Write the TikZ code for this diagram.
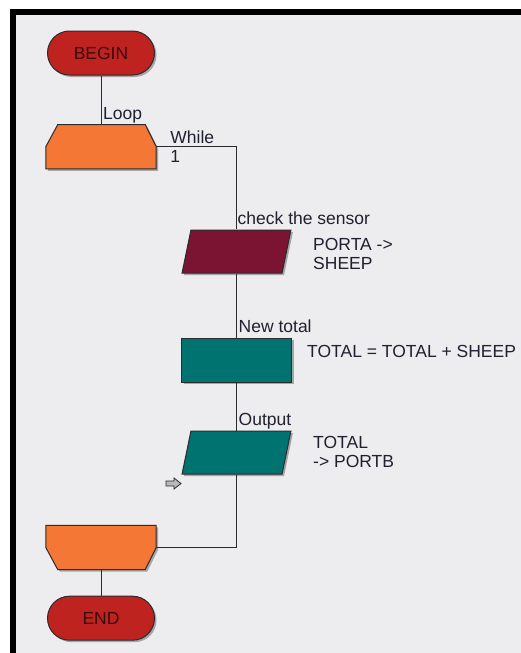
\documentclass[tikz,border=0pt]{standalone}
\usepackage{fontspec}
\setmainfont{Liberation Sans}
\usepackage{xcolor}
\usepackage{tikz}
\usetikzlibrary{positioning,shapes.geometric,shadows}

\definecolor{panel}{HTML}{EDEDF0}
\definecolor{termred}{HTML}{BE2320}
\definecolor{termtext}{HTML}{3A0A0A}
\definecolor{looporange}{HTML}{F47735}
\definecolor{inmaroon}{HTML}{7B1433}
\definecolor{calcteal}{HTML}{007370}
\definecolor{edge}{HTML}{2B2B2B}
\definecolor{labelink}{HTML}{202030}

\begin{document}
\begin{tikzpicture}[x=1pt, y=-1pt, font=\fontsize{17.5}{19}\selectfont,
  lift/.style={drop shadow={shadow xshift=2pt, shadow yshift=-2pt, opacity=.3, fill=black}},
  box/.style={draw=edge, line width=1pt, inner sep=0pt, lift},
  terminal/.style={box, fill=termred, text=termtext, rounded corners=22pt,
    minimum width=107pt, minimum height=44pt},
  loopbox/.style={rectangle, inner sep=0pt, minimum width=110pt, minimum height=44pt},
  loopshape/.style={draw=edge, line width=1pt, fill=looporange, lift},
  iobox/.style={box, trapezium, inner xsep=10pt, inner ysep=2pt,
    trapezium left angle=64, trapezium right angle=116,
    trapezium stretches=true, minimum width=109pt, minimum height=43pt},
  procbox/.style={box, rectangle, fill=calcteal, minimum width=110pt, minimum height=44pt},
  tag/.style={inner sep=0pt, text=labelink, anchor=base west},
  note/.style={inner sep=0pt, text=labelink, align=left},
  link/.style={draw=edge, line width=1pt}]
\useasboundingbox (0,0) rectangle (521,653);
\fill[white] (0,0) rectangle (521,653);
\fill[black] (10,9) rectangle (521,653);
\fill[panel] (16,15) rectangle (521,653);

\node[terminal] (begin) at (101,53) {BEGIN};
\node[loopbox, below=49pt of begin] (loopstart) {};
\node[iobox, fill=inmaroon] (sensor) at (236.5,251.5) {};
\node[procbox, below=64pt of sensor] (newtotal) {};
\node[iobox, fill=calcteal, below=48pt of newtotal] (output) {};
\node[loopbox] (loopend) at (101,547.5) {};
\node[terminal, below=26pt of loopend] (end) {END};

\filldraw[loopshape] (loopstart.south west) -- (loopstart.west) -- ([xshift=12pt]loopstart.north west)
  -- ([xshift=-11pt]loopstart.north east) -- (loopstart.east) -- (loopstart.south east) -- cycle;
\filldraw[loopshape] (loopend.north west) -- (loopend.west) -- ([xshift=12pt]loopend.south west)
  -- ([xshift=-11pt]loopend.south east) -- (loopend.east) -- (loopend.north east) -- cycle;

\node[tag] (looptag) at ([xshift=2pt, yshift=5pt]loopstart.north) {Loop};
\node[tag] (whiletag) at ([xshift=14pt, yshift=3pt]loopstart.east) {While};
\node[tag] (countag) at ([xshift=14pt, yshift=-16pt]loopstart.east) {1};
\node[tag] (sensortag) at ([xshift=1pt, yshift=5pt]sensor.north) {check the sensor};
\node[tag] (totaltag) at ([xshift=2pt, yshift=5pt]newtotal.north) {New total};
\node[tag] (outputtag) at ([xshift=2pt, yshift=5pt]output.north) {Output};

\node[note, anchor=west] (sensortext) at (313,254) {PORTA ->\\SHEEP};
\node[note, anchor=base west] (totaltext) at (307,357) {TOTAL = TOTAL + SHEEP};
\node[note, anchor=west] (outputtext) at (313,452) {TOTAL\\-> PORTB};

\draw[link] (begin) -- (loopstart);
\draw[link] (loopstart.east) -| (sensor.north);
\draw[link] (sensor) -- (newtotal);
\draw[link] (newtotal) -- (output);
\draw[link] (output.south) |- (loopend.east);
\draw[link] (loopend) -- (end);

\filldraw[fill=gray!55, draw=edge, line width=.8pt] (166,481) -- (174,481) -- (174,478)
  -- (181,483.5) -- (174,489) -- (174,486) -- (166,486) -- cycle;
\end{tikzpicture}
\end{document}
